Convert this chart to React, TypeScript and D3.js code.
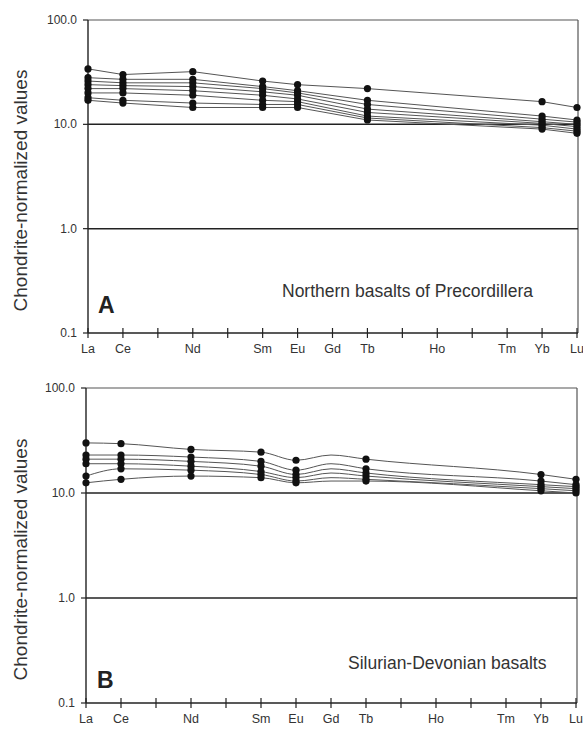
import * as d3 from "d3";

// REE order on the x axis
const elements = ["La", "Ce", "Pr", "Nd", "Pm", "Sm", "Eu", "Gd", "Tb", "Dy", "Ho", "Er", "Tm", "Yb", "Lu"];
const labeled = ["La", "Ce", "Nd", "Sm", "Eu", "Gd", "Tb", "Ho", "Tm", "Yb", "Lu"];
const measured = ["La", "Ce", "Nd", "Sm", "Eu", "Gd", "Tb", "Yb", "Lu"];
const yTicks = [0.1, 1, 10, 100];

// panel A: Northern basalts of Precordillera (no Gd)
const panelA: (number | null)[][] = [
  [34, 30, 32, 26, 24, null, 22, 16.5, 14.5],
  [28, 27, 27, 23, 21, null, 17, 12, 11],
  [26, 25, 25, 22, 20, null, 15.5, 11.2, 10.5],
  [24, 23.5, 23, 20.5, 19, null, 14, 10.6, 10],
  [22, 22, 21, 19, 17.5, null, 13, 10.2, 9.5],
  [20, 20, 19, 17, 16.5, null, 12, 9.8, 9],
  [18, 17, 16, 15.5, 15.5, null, 11.5, 9.3, 8.6],
  [17, 16, 14.5, 14.5, 14.5, null, 11, 9, 8.2],
];

// panel B: Silurian-Devonian basalts (Gd drawn without a marker)
const panelB: (number | null)[][] = [
  [30, 29.5, 26, 24.5, 20.5, 23, 21, 15, 13.5],
  [23, 23, 22, 20, 16.5, 19, 17, 13, 12],
  [21, 21, 20, 18, 15, 17, 15.5, 12, 11.5],
  [19, 19, 18, 16, 14, 15.5, 14.5, 11.5, 11],
  [14.5, 17, 16.5, 15, 13, 14, 13.5, 11, 10.5],
  [12.5, 13.5, 14.5, 14, 12.5, 13, 13, 10.5, 10],
];
const unmarkedB = ["Gd"];

const fmt = (v: number) => v.toFixed(1);

function Panel({ data, left, right, top, bottom, letter, title, titleX, titleY, unmarked, curve }: any) {
  const x = d3.scalePoint().domain(elements).range([left, right]);
  const y = d3.scaleLog().domain([0.1, 100]).range([bottom, top]);

  const line = d3.line<[string, number]>()
    .x(d => x(d[0]) as number)
    .y(d => y(d[1]))
    .curve(curve);

  const font = "Liberation Sans, Arial, sans-serif";
  const midY = (top + bottom) / 2 + 14;

  return (
    <g>
      {/* frame */}
      <line x1={left} x2={right + 1} y1={top} y2={top} stroke="#555" strokeWidth={1.2} />
      <line x1={right + 1} x2={right + 1} y1={top} y2={bottom} stroke="#555" strokeWidth={1.2} />
      <line x1={left} x2={left} y1={top} y2={bottom} stroke="#222" strokeWidth={1.4} />
      <line x1={left} x2={right + 1} y1={bottom} y2={bottom} stroke="#222" strokeWidth={1.4} />
      {/* decade lines */}
      {[1, 10].map(v => (
        <line key={v} x1={left} x2={right + 1} y1={y(v)} y2={y(v)} stroke="#222" strokeWidth={1.5} />
      ))}
      {/* y ticks */}
      {yTicks.map(v => (
        <g key={v}>
          <line x1={left - 5} x2={left} y1={y(v)} y2={y(v)} stroke="#222" strokeWidth={1.2} />
          <text x={left - 11} y={y(v) + 4} textAnchor="end" fontSize={12} fill="#333" fontFamily={font}>{fmt(v)}</text>
        </g>
      ))}
      {/* x ticks */}
      {elements.map(e => (
        <line key={e} x1={x(e)} x2={x(e)} y1={bottom - 5} y2={bottom + 5} stroke="#222" strokeWidth={1.2} />
      ))}
      {labeled.map(e => (
        <text key={e} x={x(e)} y={bottom + 20} textAnchor="middle" fontSize={12.5} fill="#333" fontFamily={font}>{e}</text>
      ))}
      <text transform={`translate(27, ${midY}) rotate(-90)`} textAnchor="middle" fontSize={19} fill="#333" fontFamily={font}>
        Chondrite-normalized values
      </text>
      {/* sample patterns */}
      {data.map((row: (number | null)[], i: number) => {
        const pts = measured.map((e, j) => [e, row[j]] as [string, number | null])
          .filter(d => d[1] != null) as [string, number][];
        return (
          <g key={i}>
            <path d={line(pts) || ""} fill="none" stroke="#555" strokeWidth={1} />
            {pts.filter(d => !unmarked.includes(d[0])).map(d => (
              <circle key={d[0]} cx={x(d[0])} cy={y(d[1])} r={3.6} fill="#111" />
            ))}
          </g>
        );
      })}
      <text x={letter[1]} y={letter[2]} fontSize={23} fontWeight="bold" fill="#222" fontFamily={font}>{letter[0]}</text>
      <text x={titleX} y={titleY} fontSize={17.5} fill="#333" fontFamily={font}>{title}</text>
    </g>
  );
}

export default function App() {
  return (
    <svg width={583} height={730} style={{ position: "absolute", left: 0, top: 0, background: "#fff" }}>
      <Panel data={panelA} left={88} right={577} top={20} bottom={333} curve={d3.curveLinear}
        letter={["A", 98, 313]} title="Northern basalts of Precordillera" titleX={282} titleY={297} unmarked={[]} />
      <Panel data={panelB} left={86} right={576} top={388} bottom={703} curve={d3.curveMonotoneX}
        letter={["B", 97, 688]} title="Silurian-Devonian basalts" titleX={348} titleY={669} unmarked={unmarkedB} />
    </svg>
  );
}
